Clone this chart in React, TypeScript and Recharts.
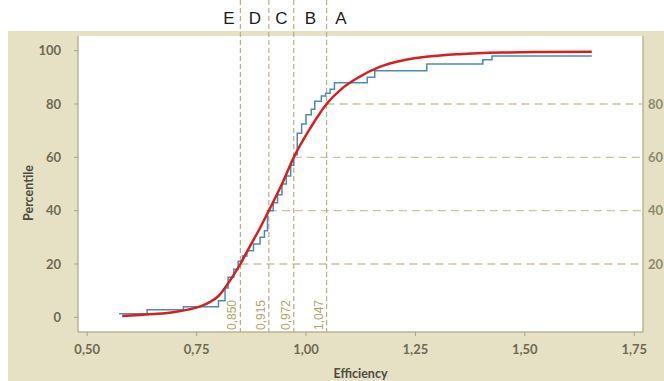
import { LineChart, Line, XAxis, YAxis, CartesianGrid, ReferenceLine, ReferenceDot, Label } from 'recharts'

// axis setup
const X_MIN = 0.479
const X_MAX = 1.77
const Y_MIN = -5.5
const Y_MAX = 105.5
const X_TICKS = [0.5, 0.75, 1.0, 1.25, 1.5, 1.75]
const Y_TICKS = [0, 20, 40, 60, 80, 100]
const RIGHT_TICKS = [20, 40, 60, 80]

// class boundaries (efficiency at 20/40/60/80 percentile)
const CUTS = [0.85, 0.915, 0.972, 1.047]
const CUT_PCT = [20, 40, 60, 80]
const ZONES = ['E', 'D', 'C', 'B', 'A']
const ZONE_X = [0.824, 0.883, 0.944, 1.01, 1.08]

// fitted distribution (red)
const FIT_X = [0.58, 0.62, 0.66, 0.7, 0.73, 0.76, 0.78, 0.8, 0.827, 0.85, 0.868, 0.89, 0.915, 0.945, 0.972, 1.01, 1.047, 1.08, 1.12, 1.17, 1.22, 1.28, 1.35, 1.45, 1.55, 1.653]
const FIT_Y = [0.5, 0.9, 1.3, 2.0, 2.9, 4.2, 5.7, 8, 14, 20, 25.5, 32, 40, 50, 60, 71, 80, 85.5, 90, 94, 96.3, 97.8, 98.7, 99.3, 99.5, 99.6]

// empirical distribution (blue steps)
const EMP_X = [0.573, 0.637, 0.72, 0.8, 0.815, 0.822, 0.835, 0.845, 0.855, 0.865, 0.88, 0.895, 0.905, 0.912, 0.925, 0.935, 0.945, 0.955, 0.965, 0.972, 0.98, 0.99, 1.0, 1.012, 1.02, 1.035, 1.045, 1.055, 1.065, 1.14, 1.157, 1.276, 1.404, 1.425, 1.653]
const EMP_Y = [1.3, 2.8, 4.0, 6.2, 11, 15, 18, 21, 23, 25, 27.5, 30, 32.5, 40, 43, 46, 50, 53, 57, 61, 69, 72.5, 76, 78, 81, 83, 84, 85.5, 88, 90, 92.5, 95, 96.6, 98, 98]

const fitData = FIT_X.map((x, i) => ({ x, p: FIT_Y[i] }))
const empData = EMP_X.map((x, i) => ({ x, p: EMP_Y[i] }))

const fmt = (v: number, d: number) => v.toFixed(d).replace('.', ',')

const TICK_FONT = { fill: '#6e6953', fontSize: 13, fontWeight: 700, fontFamily: 'Lato' }
const BORDER = '#bab395'

function CutLine(props: any) {
  const { x1, y1, y2, text } = props
  const bottom = Math.max(y1, y2)
  return (
    <g>
      <line x1={x1} x2={x1} y1={0} y2={bottom} stroke="#b8af82" strokeWidth={1.2} strokeDasharray="5 3" />
      <text
        transform={`translate(${x1 - 4},${bottom - 2}) rotate(-90)`}
        fontSize={12}
        fontFamily="Liberation Sans"
        fill="#b1a66a"
      >
        {text}
      </text>
    </g>
  )
}

export default function App() {
  return (
    <div style={{ position: 'absolute', left: 0, top: 0, width: 664, height: 381, background: '#fff' }}>
      <div style={{ position: 'absolute', left: 8, top: 31, width: 656, height: 350, background: '#e6e1c4' }} />
      <div style={{ position: 'absolute', left: 0, top: 0 }}>
        <LineChart width={664} height={381} margin={{ top: 36, right: 0, bottom: 0, left: 0 }}>
          <CartesianGrid fill="#ffffff" stroke="none" />
          <XAxis
            type="number"
            dataKey="x"
            domain={[X_MIN, X_MAX]}
            allowDataOverflow
            ticks={X_TICKS}
            tickFormatter={(v) => fmt(v, 2)}
            height={49}
            tickSize={4}
            tickMargin={9}
            tick={TICK_FONT}
            tickLine={{ stroke: '#a7a38c' }}
            axisLine={{ stroke: BORDER, strokeWidth: 1.5 }}
          >
            <Label
              content={({ viewBox }: any) => (
                <text
                  x={viewBox.x + viewBox.width / 2}
                  y={viewBox.y + 46}
                  textAnchor="middle"
                  fontSize={12.5}
                  fontWeight={700}
                  fontFamily="Lato"
                  fill="#4d4a3e"
                >
                  Efficiency
                </text>
              )}
            />
          </XAxis>
          <XAxis
            xAxisId="top"
            orientation="top"
            type="number"
            dataKey="x"
            domain={[X_MIN, X_MAX]}
            allowDataOverflow
            height={0}
            tick={false}
            tickLine={false}
            axisLine={{ stroke: BORDER, strokeWidth: 1.5 }}
          />
          <YAxis
            type="number"
            domain={[Y_MIN, Y_MAX]}
            allowDataOverflow
            ticks={Y_TICKS}
            width={78}
            tickSize={4}
            tickMargin={13}
            tick={TICK_FONT}
            tickLine={{ stroke: '#a7a38c' }}
            axisLine={{ stroke: BORDER, strokeWidth: 1.5 }}
          >
            <Label
              content={({ viewBox }: any) => (
                <text
                  transform={`translate(${viewBox.x + 33},${viewBox.y + viewBox.height / 2 + 9}) rotate(-90)`}
                  textAnchor="middle"
                  fontSize={12.5}
                  fontWeight={700}
                  fontFamily="Lato"
                  fill="#4d4a3e"
                >
                  Percentile
                </text>
              )}
            />
          </YAxis>
          <YAxis
            yAxisId="r"
            orientation="right"
            type="number"
            domain={[Y_MIN, Y_MAX]}
            allowDataOverflow
            ticks={RIGHT_TICKS}
            width={21}
            tickSize={0}
            tickMargin={5}
            tickLine={false}
            tick={{ ...TICK_FONT, fill: '#8e8a6d', textAnchor: 'start' }}
            axisLine={{ stroke: BORDER, strokeWidth: 1.5 }}
          />

          {CUTS.map((c, i) => (
            <ReferenceLine
              key={'h' + c}
              segment={[{ x: c, y: CUT_PCT[i] }, { x: X_MAX, y: CUT_PCT[i] }]}
              stroke="#ccc59b"
              strokeWidth={1.3}
              strokeDasharray="8 5"
              ifOverflow="visible"
            />
          ))}
          {CUTS.map((c) => (
            <ReferenceLine
              key={'v' + c}
              x={c}
              ifOverflow="visible"
              shape={(p: any) => <CutLine {...p} text={fmt(c, 3)} />}
            />
          ))}
          {ZONES.map((z, i) => (
            <ReferenceDot
              key={z}
              x={ZONE_X[i]}
              y={100}
              ifOverflow="visible"
              shape={(p: any) => (
                <text x={p.cx} y={24} textAnchor="middle" fontSize={17} fontFamily="Liberation Sans" fill="#1c1c1c">
                  {z}
                </text>
              )}
            />
          ))}

          <Line
            data={empData}
            dataKey="p"
            type="stepAfter"
            stroke="#4a8db2"
            strokeWidth={1.5}
            dot={false}
            isAnimationActive={false}
          />
          <Line
            data={fitData}
            dataKey="p"
            type="monotone"
            stroke="#d81e1e"
            strokeWidth={2.5}
            dot={false}
            isAnimationActive={false}
          />
        </LineChart>
      </div>
    </div>
  )
}
